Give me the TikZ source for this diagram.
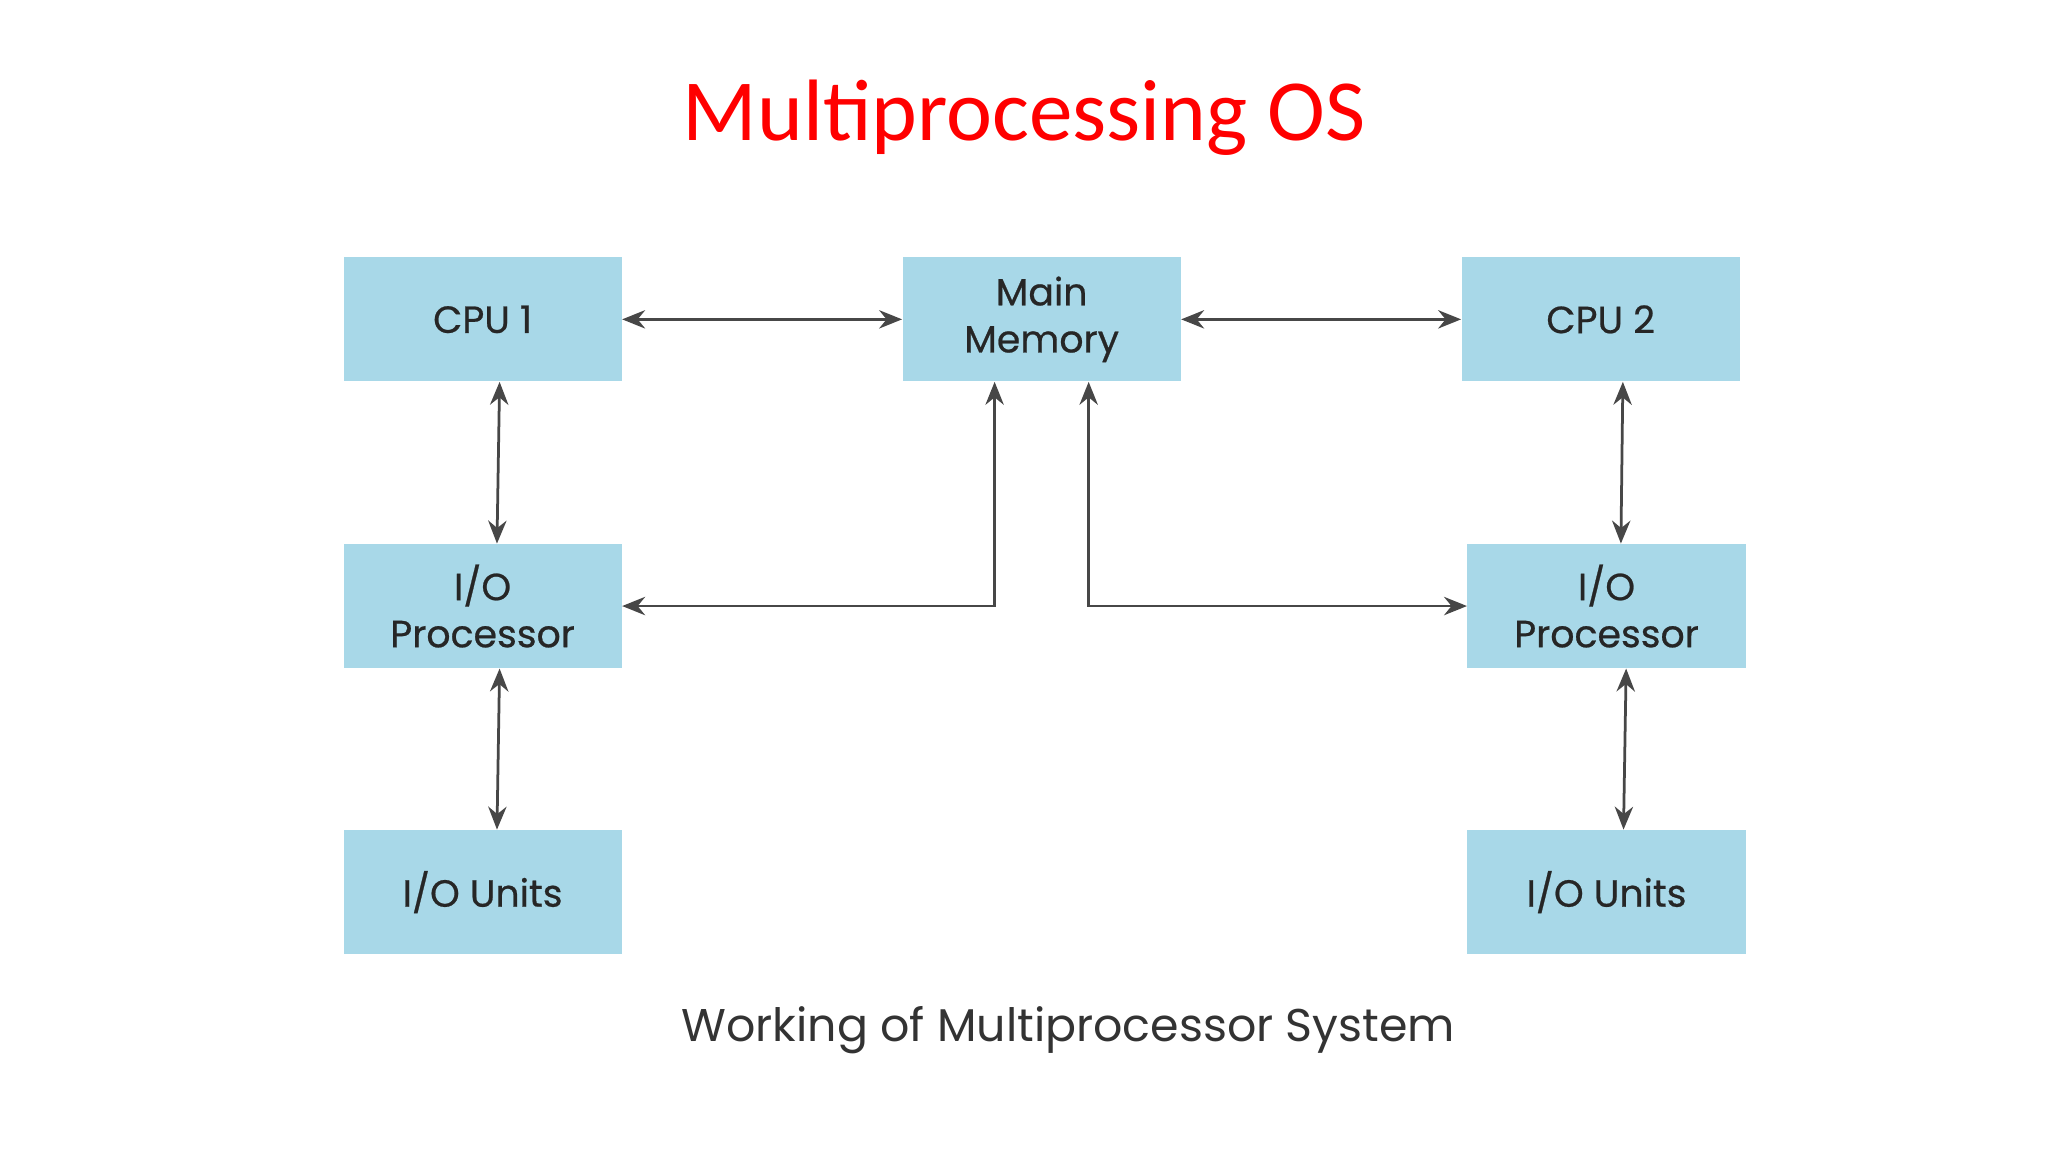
\documentclass[tikz,border=0pt]{standalone}
\usepackage{fontspec}
\setmainfont{Poppins}
\newfontfamily\titlefont{Carlito}
\newfontfamily\boxfont{Poppins}[FakeBold=0.6]
\usetikzlibrary{arrows.meta}
\begin{document}
\begin{tikzpicture}[x=0.02cm,y=-0.02cm,
  box/.style={draw=none,fill=boxblue,minimum width=213*0.02cm,minimum height=95*0.02cm,inner sep=0pt,align=center,font=\boxfont\fontsize{16.5}{20.5}\selectfont,text=black!85},
  conn/.style={draw=black!72,line width=1.2pt,{Stealth[length=10pt,width=8pt]}-{Stealth[length=10pt,width=8pt]}}]
\definecolor{boxblue}{HTML}{A8D8E8}
\useasboundingbox[fill=white] (0,0) rectangle (1568,882);
\node[text=red,font=\titlefont\fontsize{38}{42}\selectfont] (title) at (784,90) {Multiprocessing OS};
\node[box] (cpu1) at (369.5,244.5) {CPU 1};
\node[box] (mm) at (797.5,244.5) {Main\\Memory};
\node[box] (cpu2) at (1225.5,244.5) {CPU 2};
\node[box] (iop1) at (369.5,464) {I/O\\Processor};
\node[box] (iop2) at (1230,464) {I/O\\Processor};
\node[box] (iou1) at (369.5,683) {I/O Units};
\node[box] (iou2) at (1230,683) {I/O Units};
\node[font=\fontsize{20}{24}\selectfont,text=black!80] (cap) at (818,789) {Working of Multiprocessor System};
\draw[conn] (cpu1.east) -- (mm.west);
\draw[conn] (mm.east) -- (cpu2.west);
\draw[conn] ([xshift=13*0.02cm]cpu1.south) -- ([xshift=11*0.02cm]iop1.north);
\draw[conn] ([xshift=13*0.02cm]iop1.south) -- ([xshift=11*0.02cm]iou1.north);
\draw[conn] ([xshift=17*0.02cm]cpu2.south) -- ([xshift=11*0.02cm]iop2.north);
\draw[conn] ([xshift=15*0.02cm]iop2.south) -- ([xshift=13*0.02cm]iou2.north);
\draw[conn] ([xshift=-36*0.02cm]mm.south) |- (iop1.east);
\draw[conn] ([xshift=36*0.02cm]mm.south) |- (iop2.west);
\end{tikzpicture}
\end{document}
